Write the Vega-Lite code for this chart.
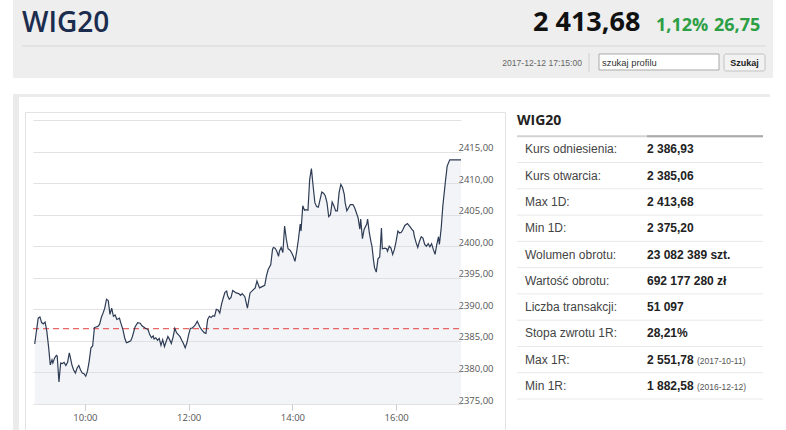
{
  "$schema": "https://vega.github.io/schema/vega-lite/v6.json",
  "background": "#ffffff",
  "padding": {"left": 13, "top": 0, "right": 0, "bottom": 0},
  "bounds": "flush",
  "spacing": 16,
  "datasets": {
    "stats": [
      {"label": "Kurs odniesienia:", "value": "2 386,93"},
      {"label": "Kurs otwarcia:", "value": "2 385,06"},
      {"label": "Max 1D:", "value": "2 413,68"},
      {"label": "Min 1D:", "value": "2 375,20"},
      {"label": "Wolumen obrotu:", "value": "23 082 389 szt."},
      {"label": "Wartość obrotu:", "value": "692 177 280 zł"},
      {"label": "Liczba transakcji:", "value": "51 097"},
      {"label": "Stopa zwrotu 1R:", "value": "28,21%"},
      {"label": "Max 1R:", "value": "2 551,78", "note": "(2017-10-11)"},
      {"label": "Min 1R:", "value": "1 882,58", "note": "(2016-12-12)"}
    ]
  },
  "vconcat": [
    {
      "width": 760,
      "height": 78,
      "view": {"fill": "#eeeeee", "stroke": null},
      "data": {"values": [{"index": "WIG20", "last": "2 413,68", "pct": "1,12%", "chg": "26,75", "time": "2017-12-12 17:15:00", "search": "szukaj profilu", "button": "Szukaj"}]},
      "layer": [
        {
          "mark": {"type": "rule", "color": "#d6d6d6"},
          "encoding": {
            "x": {"datum": 9, "type": "quantitative", "scale": {"domain": [0, 760], "nice": false, "zero": false}, "axis": null},
            "x2": {"datum": 753},
            "y": {"datum": 46, "type": "quantitative", "scale": {"domain": [0, 78], "nice": false, "zero": false, "reverse": true}, "axis": null}
          }
        },
        {
          "mark": {"type": "rule", "color": "#d0d0d0"},
          "encoding": {
            "x": {"datum": 576, "type": "quantitative", "axis": null},
            "y": {"datum": 53, "type": "quantitative", "axis": null},
            "y2": {"datum": 72}
          }
        },
        {
          "mark": {"type": "rect", "fill": "#ffffff", "stroke": "#a9a9a9", "strokeWidth": 1},
          "encoding": {
            "x": {"datum": 586, "type": "quantitative", "axis": null},
            "x2": {"datum": 706},
            "y": {"datum": 54, "type": "quantitative", "axis": null},
            "y2": {"datum": 70}
          }
        },
        {
          "mark": {"type": "rect", "fill": "#f2f2f2", "stroke": "#c2c2c2", "strokeWidth": 1, "cornerRadius": 2},
          "encoding": {
            "x": {"datum": 711, "type": "quantitative", "axis": null},
            "x2": {"datum": 752},
            "y": {"datum": 54, "type": "quantitative", "axis": null},
            "y2": {"datum": 71}
          }
        },
        {
          "mark": {"type": "text", "align": "left", "baseline": "alphabetic", "font": "Open Sans", "fontSize": 28, "fontWeight": 600, "color": "#1b2c4e"},
          "encoding": {
            "text": {"field": "index"},
            "x": {"datum": 9, "type": "quantitative", "axis": null},
            "y": {"datum": 32, "type": "quantitative", "axis": null}
          }
        },
        {
          "mark": {"type": "text", "align": "left", "baseline": "alphabetic", "font": "Open Sans", "fontSize": 27, "fontWeight": 700, "color": "#111111"},
          "encoding": {
            "text": {"field": "last"},
            "x": {"datum": 520, "type": "quantitative", "axis": null},
            "y": {"datum": 31, "type": "quantitative", "axis": null}
          }
        },
        {
          "mark": {"type": "text", "align": "left", "baseline": "alphabetic", "font": "Open Sans", "fontSize": 18, "fontWeight": 700, "color": "#2c9f45"},
          "encoding": {
            "text": {"field": "pct"},
            "x": {"datum": 643, "type": "quantitative", "axis": null},
            "y": {"datum": 31, "type": "quantitative", "axis": null}
          }
        },
        {
          "mark": {"type": "text", "align": "left", "baseline": "alphabetic", "font": "Open Sans", "fontSize": 18, "fontWeight": 700, "color": "#2c9f45"},
          "encoding": {
            "text": {"field": "chg"},
            "x": {"datum": 701, "type": "quantitative", "axis": null},
            "y": {"datum": 31, "type": "quantitative", "axis": null}
          }
        },
        {
          "mark": {"type": "text", "align": "right", "baseline": "middle", "font": "Liberation Sans", "fontSize": 8.6, "color": "#666666"},
          "encoding": {
            "text": {"field": "time"},
            "x": {"datum": 569, "type": "quantitative", "axis": null},
            "y": {"datum": 63, "type": "quantitative", "axis": null}
          }
        },
        {
          "mark": {"type": "text", "align": "left", "baseline": "middle", "font": "Liberation Sans", "fontSize": 9.4, "color": "#333333"},
          "encoding": {
            "text": {"field": "search"},
            "x": {"datum": 589, "type": "quantitative", "axis": null},
            "y": {"datum": 62.5, "type": "quantitative", "axis": null}
          }
        },
        {
          "mark": {"type": "text", "align": "center", "baseline": "middle", "font": "Liberation Sans", "fontSize": 9, "fontWeight": "bold", "color": "#222222"},
          "encoding": {
            "text": {"field": "button"},
            "x": {"datum": 731.5, "type": "quantitative", "axis": null},
            "y": {"datum": 63, "type": "quantitative", "axis": null}
          }
        }
      ]
    },
    {
      "spacing": 0,
      "bounds": "flush",
      "hconcat": [
        {"width": 3, "height": 336, "view": {"fill": "#ebebeb", "stroke": null}, "data": {"values": []}, "mark": "rect"},
        {
          "spacing": 15,
          "bounds": "flush",
          "vconcat": [
            {"width": 754, "height": 3, "view": {"fill": "#ebebeb", "stroke": null}, "data": {"values": []}, "mark": "rect"},
            {
              "spacing": 0,
              "bounds": "flush",
              "hconcat": [
                {"width": 9, "height": 318, "data": {"values": []}, "mark": "rect"},
                {
                  "width": 480,
                  "height": 318,
                  "view": {"stroke": "#e3e3e3", "fill": "#ffffff"},
                  "data": {
                    "format": {"parse": {"t": "date:'%H:%M'"}},
                    "values": [
                      {"t": "09:02", "v": 2384.5}, {"t": "09:06", "v": 2388.6}, {"t": "09:08", "v": 2388.8}, {"t": "09:10", "v": 2387.9},
                      {"t": "09:12", "v": 2387.7}, {"t": "09:14", "v": 2388.0}, {"t": "09:16", "v": 2386.5}, {"t": "09:18", "v": 2384.1},
                      {"t": "09:20", "v": 2381.2}, {"t": "09:22", "v": 2382.0}, {"t": "09:23", "v": 2381.5}, {"t": "09:25", "v": 2382.3},
                      {"t": "09:27", "v": 2382.7}, {"t": "09:28", "v": 2382.6}, {"t": "09:30", "v": 2378.5}, {"t": "09:32", "v": 2381.5},
                      {"t": "09:34", "v": 2381.4}, {"t": "09:36", "v": 2381.6}, {"t": "09:38", "v": 2381.1}, {"t": "09:40", "v": 2381.6},
                      {"t": "09:42", "v": 2383.1}, {"t": "09:43", "v": 2382.5}, {"t": "09:45", "v": 2381.2}, {"t": "09:47", "v": 2380.4},
                      {"t": "09:49", "v": 2379.9}, {"t": "09:51", "v": 2380.7}, {"t": "09:53", "v": 2381.1}, {"t": "09:55", "v": 2380.4},
                      {"t": "09:57", "v": 2379.9}, {"t": "09:59", "v": 2379.8}, {"t": "10:01", "v": 2379.4}, {"t": "10:03", "v": 2380.2},
                      {"t": "10:05", "v": 2381.8}, {"t": "10:07", "v": 2383.9}, {"t": "10:09", "v": 2384.2}, {"t": "10:11", "v": 2387.1},
                      {"t": "10:13", "v": 2387.2}, {"t": "10:15", "v": 2387.3}, {"t": "10:17", "v": 2387.6}, {"t": "10:19", "v": 2388.7},
                      {"t": "10:21", "v": 2389.4}, {"t": "10:23", "v": 2390.2}, {"t": "10:25", "v": 2391.6}, {"t": "10:27", "v": 2391.4},
                      {"t": "10:29", "v": 2389.2}, {"t": "10:31", "v": 2390.2}, {"t": "10:33", "v": 2388.9}, {"t": "10:35", "v": 2389.1},
                      {"t": "10:37", "v": 2388.4}, {"t": "10:40", "v": 2388.6}, {"t": "10:41", "v": 2388.1}, {"t": "10:44", "v": 2386.8},
                      {"t": "10:46", "v": 2385.5}, {"t": "10:48", "v": 2384.7}, {"t": "10:50", "v": 2384.8}, {"t": "10:53", "v": 2385.0},
                      {"t": "10:55", "v": 2385.7}, {"t": "10:58", "v": 2387.2}, {"t": "11:01", "v": 2387.9}, {"t": "11:04", "v": 2387.8},
                      {"t": "11:06", "v": 2387.4}, {"t": "11:10", "v": 2387.0}, {"t": "11:13", "v": 2386.8}, {"t": "11:15", "v": 2386.0},
                      {"t": "11:17", "v": 2385.5}, {"t": "11:19", "v": 2385.8}, {"t": "11:20", "v": 2385.3}, {"t": "11:22", "v": 2385.5},
                      {"t": "11:24", "v": 2385.1}, {"t": "11:26", "v": 2385.4}, {"t": "11:28", "v": 2384.3}, {"t": "11:30", "v": 2385.2},
                      {"t": "11:32", "v": 2384.1}, {"t": "11:34", "v": 2384.9}, {"t": "11:36", "v": 2385.7}, {"t": "11:38", "v": 2385.2},
                      {"t": "11:40", "v": 2384.6}, {"t": "11:42", "v": 2385.6}, {"t": "11:44", "v": 2387.0}, {"t": "11:46", "v": 2386.3},
                      {"t": "11:48", "v": 2386.0}, {"t": "11:50", "v": 2385.7}, {"t": "11:52", "v": 2385.1}, {"t": "11:54", "v": 2384.6},
                      {"t": "11:56", "v": 2383.9}, {"t": "11:58", "v": 2384.7}, {"t": "12:00", "v": 2386.0}, {"t": "12:02", "v": 2387.0},
                      {"t": "12:04", "v": 2387.0}, {"t": "12:07", "v": 2387.4}, {"t": "12:10", "v": 2388.1}, {"t": "12:11", "v": 2387.8},
                      {"t": "12:13", "v": 2387.2}, {"t": "12:15", "v": 2386.8}, {"t": "12:18", "v": 2386.3}, {"t": "12:20", "v": 2386.2},
                      {"t": "12:22", "v": 2388.4}, {"t": "12:24", "v": 2388.9}, {"t": "12:26", "v": 2388.7}, {"t": "12:28", "v": 2389.0},
                      {"t": "12:30", "v": 2388.9}, {"t": "12:32", "v": 2390.0}, {"t": "12:34", "v": 2389.9}, {"t": "12:36", "v": 2389.4},
                      {"t": "12:38", "v": 2390.8}, {"t": "12:40", "v": 2391.8}, {"t": "12:42", "v": 2392.7}, {"t": "12:44", "v": 2392.9},
                      {"t": "12:45", "v": 2392.2}, {"t": "12:47", "v": 2391.6}, {"t": "12:49", "v": 2391.9}, {"t": "12:51", "v": 2393.0},
                      {"t": "12:53", "v": 2392.8}, {"t": "12:55", "v": 2392.6}, {"t": "12:58", "v": 2392.5}, {"t": "13:00", "v": 2392.2},
                      {"t": "13:02", "v": 2392.5}, {"t": "13:05", "v": 2392.0}, {"t": "13:08", "v": 2390.2}, {"t": "13:11", "v": 2392.6},
                      {"t": "13:14", "v": 2393.0}, {"t": "13:17", "v": 2393.4}, {"t": "13:19", "v": 2394.5}, {"t": "13:22", "v": 2393.4},
                      {"t": "13:25", "v": 2393.6}, {"t": "13:28", "v": 2393.8}, {"t": "13:30", "v": 2395.3}, {"t": "13:32", "v": 2396.3},
                      {"t": "13:35", "v": 2397.1}, {"t": "13:37", "v": 2399.5}, {"t": "13:38", "v": 2399.8}, {"t": "13:40", "v": 2399.7},
                      {"t": "13:42", "v": 2399.2}, {"t": "13:44", "v": 2398.4}, {"t": "13:45", "v": 2399.2}, {"t": "13:47", "v": 2399.8},
                      {"t": "13:49", "v": 2399.0}, {"t": "13:51", "v": 2403.2}, {"t": "13:53", "v": 2401.1}, {"t": "13:55", "v": 2399.6},
                      {"t": "13:57", "v": 2399.4}, {"t": "13:59", "v": 2399.0}, {"t": "14:01", "v": 2398.4}, {"t": "14:03", "v": 2397.6},
                      {"t": "14:05", "v": 2399.2}, {"t": "14:07", "v": 2401.1}, {"t": "14:09", "v": 2403.5}, {"t": "14:10", "v": 2402.4},
                      {"t": "14:12", "v": 2406.4}, {"t": "14:14", "v": 2405.7}, {"t": "14:16", "v": 2405.8}, {"t": "14:18", "v": 2405.7},
                      {"t": "14:20", "v": 2410.6}, {"t": "14:22", "v": 2412.3}, {"t": "14:24", "v": 2409.5}, {"t": "14:26", "v": 2406.9},
                      {"t": "14:28", "v": 2406.3}, {"t": "14:30", "v": 2406.2}, {"t": "14:32", "v": 2407.4}, {"t": "14:34", "v": 2408.6},
                      {"t": "14:36", "v": 2408.4}, {"t": "14:38", "v": 2408.0}, {"t": "14:40", "v": 2406.9}, {"t": "14:42", "v": 2404.7},
                      {"t": "14:44", "v": 2405.0}, {"t": "14:46", "v": 2407.0}, {"t": "14:48", "v": 2406.4}, {"t": "14:50", "v": 2405.6},
                      {"t": "14:52", "v": 2405.6}, {"t": "14:54", "v": 2408.5}, {"t": "14:56", "v": 2409.8}, {"t": "14:58", "v": 2409.3},
                      {"t": "15:00", "v": 2408.2}, {"t": "15:01", "v": 2406.9}, {"t": "15:03", "v": 2405.6}, {"t": "15:05", "v": 2406.1},
                      {"t": "15:07", "v": 2406.6}, {"t": "15:10", "v": 2406.6}, {"t": "15:12", "v": 2406.1}, {"t": "15:14", "v": 2405.3},
                      {"t": "15:16", "v": 2404.5}, {"t": "15:18", "v": 2402.7}, {"t": "15:19", "v": 2404.3}, {"t": "15:21", "v": 2401.2},
                      {"t": "15:23", "v": 2402.7}, {"t": "15:26", "v": 2403.5}, {"t": "15:27", "v": 2404.3}, {"t": "15:29", "v": 2402.1},
                      {"t": "15:31", "v": 2400.6}, {"t": "15:32", "v": 2400.0}, {"t": "15:34", "v": 2397.6}, {"t": "15:35", "v": 2396.6},
                      {"t": "15:37", "v": 2395.9}, {"t": "15:39", "v": 2398.0}, {"t": "15:41", "v": 2398.3}, {"t": "15:43", "v": 2402.9},
                      {"t": "15:44", "v": 2399.6}, {"t": "15:47", "v": 2399.7}, {"t": "15:49", "v": 2399.6}, {"t": "15:50", "v": 2399.2},
                      {"t": "15:52", "v": 2400.0}, {"t": "15:54", "v": 2399.7}, {"t": "15:56", "v": 2398.7}, {"t": "15:58", "v": 2399.5},
                      {"t": "16:00", "v": 2400.8}, {"t": "16:02", "v": 2402.4}, {"t": "16:04", "v": 2402.1}, {"t": "16:06", "v": 2402.2},
                      {"t": "16:08", "v": 2402.7}, {"t": "16:10", "v": 2403.3}, {"t": "16:13", "v": 2403.6}, {"t": "16:16", "v": 2403.1},
                      {"t": "16:18", "v": 2402.7}, {"t": "16:20", "v": 2402.4}, {"t": "16:21", "v": 2401.6}, {"t": "16:23", "v": 2400.6},
                      {"t": "16:25", "v": 2399.8}, {"t": "16:27", "v": 2400.8}, {"t": "16:29", "v": 2401.5}, {"t": "16:31", "v": 2401.3},
                      {"t": "16:33", "v": 2400.3}, {"t": "16:35", "v": 2400.0}, {"t": "16:37", "v": 2400.4}, {"t": "16:39", "v": 2399.9},
                      {"t": "16:41", "v": 2400.4}, {"t": "16:43", "v": 2399.5}, {"t": "16:45", "v": 2398.7}, {"t": "16:47", "v": 2400.3},
                      {"t": "16:49", "v": 2401.5}, {"t": "16:50", "v": 2400.3}, {"t": "16:52", "v": 2402.7}, {"t": "16:54", "v": 2406.4},
                      {"t": "16:57", "v": 2410.3}, {"t": "16:59", "v": 2412.7}, {"t": "17:02", "v": 2413.7}, {"t": "17:15", "v": 2413.68}
                    ]
                  },
                  "layer": [
                    {
                      "mark": {"type": "area", "color": "#d7dae4", "opacity": 0.3},
                      "encoding": {
                        "x": {
                          "field": "t",
                          "type": "temporal",
                          "title": null,
                          "scale": {
                            "domain": [
                              {"year": 1900, "month": 1, "date": 1, "hours": 9, "minutes": 0},
                              {"year": 1900, "month": 1, "date": 1, "hours": 17, "minutes": 15}
                            ],
                            "range": [8, 436],
                            "nice": false
                          },
                          "axis": {
                            "values": [
                              {"year": 1900, "month": 1, "date": 1, "hours": 10},
                              {"year": 1900, "month": 1, "date": 1, "hours": 12},
                              {"year": 1900, "month": 1, "date": 1, "hours": 14},
                              {"year": 1900, "month": 1, "date": 1, "hours": 16}
                            ],
                            "format": "%H:%M",
                            "grid": false,
                            "domain": false,
                            "tickColor": "#cccccc",
                            "tickSize": 6,
                            "offset": -26,
                            "labelPadding": 2,
                            "labelColor": "#555555",
                            "labelFont": "Open Sans",
                            "labelFontSize": 9.5
                          }
                        },
                        "y": {
                          "field": "v",
                          "type": "quantitative",
                          "title": null,
                          "scale": {"domain": [2375, 2420], "range": [292, 8], "nice": false, "zero": false},
                          "axis": {
                            "orient": "left",
                            "values": [2375, 2380, 2385, 2390, 2395, 2400, 2405, 2410, 2415, 2420],
                            "tickCount": 20,
                            "labelExpr": "datum.value >= 2420 ? '' : replace(format(datum.value, '.2f'), '.', ',')",
                            "labelOverlap": false,
                            "grid": true,
                            "gridColor": "#e2e2e2",
                            "domain": false,
                            "ticks": false,
                            "tickSize": 0,
                            "labelAlign": "left",
                            "labelBaseline": "alphabetic",
                            "labelOffset": -1,
                            "labelPadding": -433,
                            "labelColor": "#555555",
                            "labelFont": "Open Sans",
                            "labelFontSize": 9.5
                          }
                        },
                        "y2": {"datum": 2375}
                      }
                    },
                    {
                      "data": {"values": [{"kurs": 2386.93}]},
                      "mark": {"type": "rule", "color": "#e4423f", "strokeDash": [6, 4], "strokeWidth": 1},
                      "encoding": {
                        "x": {"datum": {"year": 1900, "month": 1, "date": 1, "hours": 9, "minutes": 0}, "type": "temporal", "title": null},
                        "x2": {"datum": {"year": 1900, "month": 1, "date": 1, "hours": 17, "minutes": 15}},
                        "y": {"field": "kurs", "type": "quantitative", "title": null}
                      }
                    },
                    {
                      "mark": {"type": "line", "color": "#2e3c55", "strokeWidth": 1.2},
                      "encoding": {
                        "x": {"field": "t", "type": "temporal", "title": null},
                        "y": {"field": "v", "type": "quantitative", "title": null}
                      }
                    }
                  ]
                },
                {"width": 12, "height": 318, "data": {"values": []}, "mark": "rect"},
                {
                  "width": 246,
                  "height": 318,
                  "layer": [
                    {
                      "data": {"name": "stats"},
                      "mark": {"type": "rule", "color": "#e8e8e8"},
                      "encoding": {
                        "y": {
                          "field": "label",
                          "type": "nominal",
                          "bandPosition": 1,
                          "title": null,
                          "axis": null,
                          "scale": {
                            "type": "band",
                            "domain": ["WIG20", "Kurs odniesienia:", "Kurs otwarcia:", "Max 1D:", "Min 1D:", "Wolumen obrotu:", "Wartość obrotu:", "Liczba transakcji:", "Stopa zwrotu 1R:", "Max 1R:", "Min 1R:"],
                            "range": [-2, 287],
                            "paddingInner": 0,
                            "paddingOuter": 0
                          }
                        }
                      }
                    },
                    {
                      "data": {"values": [{"label": "WIG20"}]},
                      "mark": {"type": "rule", "color": "#d3d3d3", "strokeWidth": 2},
                      "encoding": {
                        "y": {"field": "label", "type": "nominal", "bandPosition": 1, "title": null, "axis": null}
                      }
                    },
                    {
                      "data": {"values": [{"label": "WIG20"}]},
                      "mark": {"type": "rule", "color": "#aaaaaa", "strokeWidth": 2},
                      "encoding": {
                        "x": {"datum": "value", "type": "nominal", "title": null, "axis": null, "scale": {"type": "point", "domain": ["label", "value"], "range": [8, 130], "padding": 0}},
                        "x2": {"value": "width"},
                        "y": {"field": "label", "type": "nominal", "bandPosition": 1, "title": null, "axis": null}
                      }
                    },
                    {
                      "data": {"values": [{"label": "WIG20"}]},
                      "mark": {"type": "text", "align": "left", "baseline": "middle", "dx": -8, "dy": -2, "font": "Open Sans", "fontSize": 14, "fontWeight": 700, "color": "#222222"},
                      "encoding": {
                        "text": {"field": "label"},
                        "x": {"datum": "label", "type": "nominal", "title": null, "axis": null},
                        "y": {"field": "label", "type": "nominal", "bandPosition": 0.5, "title": null, "axis": null}
                      }
                    },
                    {
                      "data": {"name": "stats"},
                      "mark": {"type": "text", "align": "left", "baseline": "middle", "font": "Liberation Sans", "fontSize": 12, "color": "#444444"},
                      "encoding": {
                        "text": {"field": "label"},
                        "x": {"datum": "label", "type": "nominal", "title": null, "axis": null},
                        "y": {"field": "label", "type": "nominal", "bandPosition": 0.5, "title": null, "axis": null}
                      }
                    },
                    {
                      "data": {"name": "stats"},
                      "mark": {"type": "text", "align": "left", "baseline": "middle", "font": "Liberation Sans", "fontSize": 12, "fontWeight": "bold", "color": "#222222"},
                      "encoding": {
                        "text": {"field": "value"},
                        "x": {"datum": "value", "type": "nominal", "title": null, "axis": null},
                        "y": {"field": "label", "type": "nominal", "bandPosition": 0.5, "title": null, "axis": null}
                      }
                    },
                    {
                      "data": {"name": "stats"},
                      "transform": [{"filter": "isValid(datum.note)"}],
                      "mark": {"type": "text", "align": "left", "baseline": "middle", "dx": 50, "dy": 1, "font": "Liberation Sans", "fontSize": 8.5, "color": "#555555"},
                      "encoding": {
                        "text": {"field": "note"},
                        "x": {"datum": "value", "type": "nominal", "title": null, "axis": null},
                        "y": {"field": "label", "type": "nominal", "bandPosition": 0.5, "title": null, "axis": null}
                      }
                    }
                  ]
                },
                {"width": 7, "height": 318, "data": {"values": []}, "mark": "rect"}
              ]
            }
          ]
        },
        {"width": 3, "height": 336, "view": {"fill": "#ebebeb", "stroke": null}, "data": {"values": []}, "mark": "rect"}
      ]
    }
  ],
  "config": {
    "view": {"stroke": null},
    "font": "Liberation Sans"
  }
}
